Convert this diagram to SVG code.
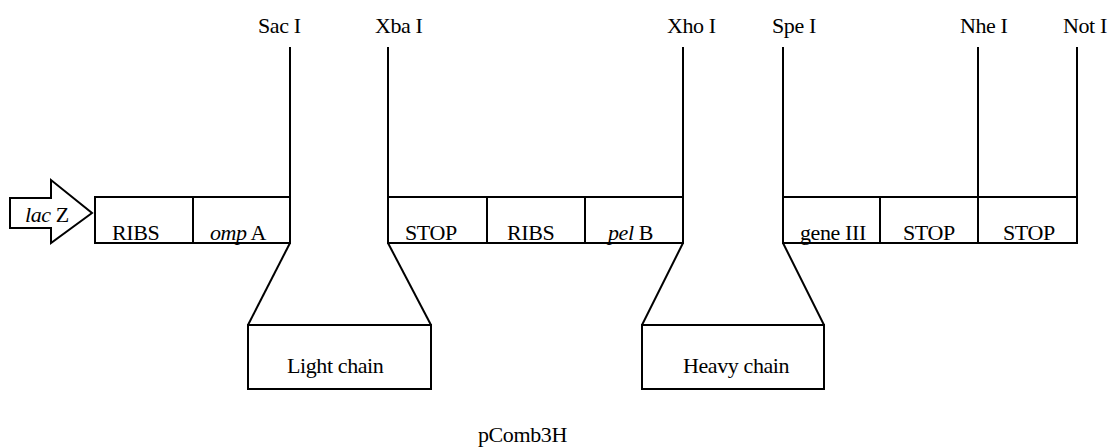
<svg xmlns="http://www.w3.org/2000/svg" width="1115" height="447" viewBox="0 0 1115 447">
<style>
.s{fill:none;stroke:#000;stroke-width:2}
.b{fill:#fff;stroke:#000;stroke-width:2}
text{font-family:"Liberation Serif","Times New Roman",serif;font-size:22px;fill:#000;letter-spacing:-0.4px}
.i{font-style:italic}
</style>
<rect width="1115" height="447" fill="#fff"/>
<g id="connectors">
<line class="s" x1="290" y1="47" x2="290" y2="243"/>
<line class="s" x1="388" y1="47" x2="388" y2="243"/>
<line class="s" x1="683" y1="47" x2="683" y2="243"/>
<line class="s" x1="783" y1="47" x2="783" y2="243"/>
<line class="s" x1="978" y1="47" x2="978" y2="243"/>
<line class="s" x1="1077" y1="47" x2="1077" y2="243"/>
<line class="s" x1="290" y1="243" x2="248" y2="325"/>
<line class="s" x1="388" y1="243" x2="431" y2="325"/>
<line class="s" x1="683" y1="243" x2="642" y2="325"/>
<line class="s" x1="783" y1="243" x2="824" y2="325"/>
</g>
<g id="sites">
<text x="258" y="33">Sac I</text>
<text x="375" y="33">Xba I</text>
<text x="667" y="33">Xho I</text>
<text x="772" y="33">Spe I</text>
<text x="960" y="33">Nhe I</text>
<text x="1063" y="33">Not I</text>
</g>
<g id="lacZ">
<polygon class="b" points="10,198 51,198 51,180 92,213 51,243 51,228 10,228"/>
<text x="25" y="222"><tspan class="i">lac</tspan> Z</text>
</g>
<g id="ribs1"><rect class="b" x="95" y="197" width="98" height="46"/><text x="112" y="240">RIBS</text></g>
<g id="ompA"><rect class="b" x="193" y="197" width="97" height="46"/><text x="210" y="240"><tspan class="i">omp</tspan> A</text></g>
<g id="stop1"><rect class="b" x="388" y="197" width="99" height="46"/><text x="405" y="240">STOP</text></g>
<g id="ribs2"><rect class="b" x="487" y="197" width="98" height="46"/><text x="507" y="240">RIBS</text></g>
<g id="pelB"><rect class="b" x="585" y="197" width="98" height="46"/><text x="608" y="240"><tspan class="i">pel</tspan> B</text></g>
<g id="geneIII"><rect class="b" x="783" y="197" width="97" height="46"/><text x="800" y="240">gene III</text></g>
<g id="stop2"><rect class="b" x="880" y="197" width="98" height="46"/><text x="903" y="240">STOP</text></g>
<g id="stop3"><rect class="b" x="978" y="197" width="99" height="46"/><text x="1003" y="240">STOP</text></g>
<g id="light"><rect class="b" x="248" y="325" width="183" height="64"/><text x="287" y="373">Light chain</text></g>
<g id="heavy"><rect class="b" x="642" y="325" width="182" height="64"/><text x="683" y="373">Heavy chain</text></g>
<g id="title"><text x="478" y="442">pComb3H</text></g>
</svg>
